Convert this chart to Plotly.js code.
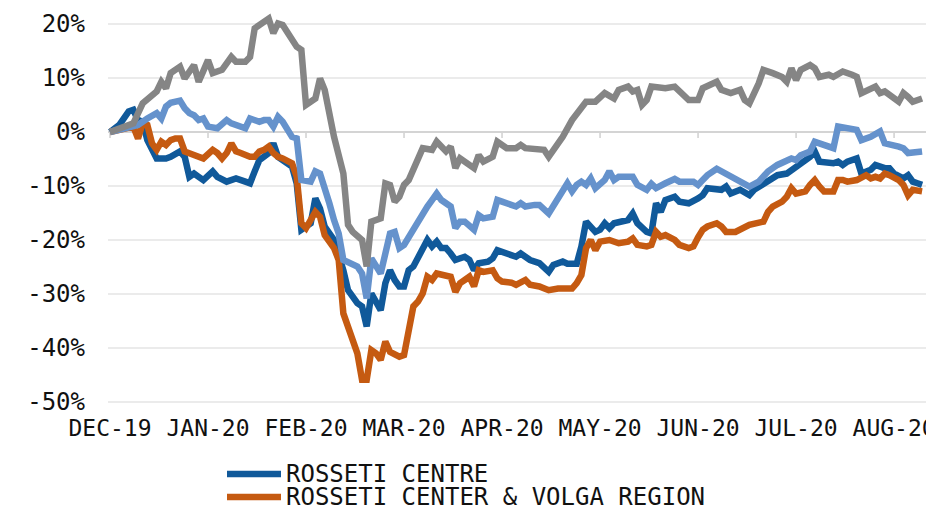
<!DOCTYPE html>
<html>
<head>
<meta charset="utf-8">
<script src="https://cdn.plot.ly/plotly-3.0.1.min.js"></script>
<style>
html,body{margin:0;padding:0;background:#fff;overflow:hidden}
#chart{width:926px;height:508px}
</style>
</head>
<body>
<div id="chart"></div>
<script>
// ---- DATA (x = trading-day index since start, y = % change) ----
const tickDays = [0, 21, 42, 63, 84, 105, 126, 147, 168];
const tickLabels = ['DEC-19', 'JAN-20', 'FEB-20', 'MAR-20', 'APR-20', 'MAY-20', 'JUN-20', 'JUL-20', 'AUG-20'];
const yTicks = [-50, -40, -30, -20, -10, 0, 10, 20];

const centreName = 'ROSSETI CENTRE';
const centreDays = [0,2,4,5,6,7,8,9,10,12,13,15,16,17,18,19,20,22,23,25,26,27,29,30,31,32,34,35,36,39,40,41,43,44,45,46,48,49,50,51,53,54,55,56,57,58,59,60,61,62,63,64,65,66,67,68,69,70,71,72,73,74,76,77,78,79,81,82,83,84,86,87,88,90,92,94,95,97,98,100,101,102,104,105,106,107,108,111,112,113,115,116,117,118,119,121,122,124,126,127,128,130,131,132,133,135,137,138,140,141,143,145,147,148,150,151,152,155,156,157,158,160,161,163,164,166,167,168,170,171,172,173,174];
const centreValues = [0,1.3,3.8,4.1,2.2,1.9,-1.5,-3.3,-4.9,-4.9,-4.6,-3.6,-4.6,-8.3,-7.7,-8.3,-8.9,-7.3,-8.3,-9.2,-8.9,-8.6,-9.2,-9.5,-7.3,-5.2,-3.9,-2.1,-4.6,-6.4,-9.5,-18.1,-16.9,-12.3,-14.2,-17.5,-20.0,-22.5,-25.6,-29.3,-31.7,-32.3,-36.0,-29.9,-31.7,-33.0,-28.0,-25.6,-27.4,-28.6,-28.6,-25.6,-24.9,-23.1,-21.5,-20.0,-21.2,-20.3,-21.5,-21.5,-22.5,-23.7,-23.1,-23.7,-25.6,-24.3,-24.0,-23.4,-21.9,-22.2,-22.8,-23.1,-22.5,-23.7,-24.3,-25.9,-24.6,-24.0,-24.4,-24.4,-21.2,-16.6,-18.5,-18.1,-16.9,-17.8,-16.9,-16.3,-15.1,-16.9,-18.5,-18.8,-13.2,-14.8,-12.6,-12.0,-12.9,-13.2,-12.3,-11.7,-10.4,-10.4,-10.7,-10.1,-11.4,-10.7,-11.7,-10.7,-9.5,-8.9,-8.0,-7.7,-6.4,-6.1,-4.6,-3.6,-5.5,-5.8,-5.5,-6.1,-5.5,-4.9,-7.7,-7.0,-6.1,-6.7,-6.7,-7.7,-8.6,-8.0,-9.2,-9.5,-9.8];

const volgaName = 'ROSSETI CENTER & VOLGA REGION';
const volgaDays = [0,3,5,6,7,8,9,10,11,12,13,14,15,16,17,19,20,22,23,24,25,26,27,28,30,31,32,33,34,35,36,37,39,40,41,42,43,44,45,46,48,49,50,51,52,53,54,55,56,57,58,59,60,62,63,64,65,66,67,68,69,70,71,72,73,74,75,76,77,78,79,80,82,83,84,86,87,89,90,92,94,96,99,100,101,102,103,104,105,107,109,111,112,113,115,116,117,118,119,121,122,124,125,126,127,128,130,131,132,134,135,137,140,141,142,144,145,146,147,149,150,151,152,153,155,156,157,158,160,161,162,163,164,165,166,167,169,170,171,172,173,174];
const volgaValues = [0,0.7,1.0,-1.2,1.6,1.3,-2.1,-3.3,-1.8,-2.4,-1.5,-1.2,-1.2,-3.6,-3.9,-4.3,-4.9,-3.3,-3.9,-4.9,-3.9,-2.1,-3.6,-3.9,-4.6,-4.6,-3.6,-3.3,-2.7,-3.9,-4.6,-4.9,-5.8,-8.3,-16.9,-17.8,-16.3,-14.8,-15.7,-19.1,-21.5,-23.7,-33.6,-36.0,-38.5,-41.0,-45.9,-45.9,-40.4,-41.0,-42.2,-38.8,-40.7,-41.6,-41.3,-36.0,-32.3,-31.4,-29.9,-26.8,-27.4,-26.2,-26.5,-26.5,-26.8,-29.6,-28.0,-27.4,-26.8,-28.6,-25.6,-25.9,-25.6,-27.1,-27.7,-27.9,-28.3,-27.4,-28.3,-28.6,-29.3,-29.0,-29.0,-28.0,-26.5,-21.5,-20.0,-21.9,-20.3,-20.0,-20.6,-20.3,-19.7,-20.9,-21.2,-20.9,-18.5,-19.4,-19.1,-20.0,-20.9,-21.5,-21.2,-19.5,-18.1,-17.5,-16.9,-17.5,-18.5,-18.5,-18.1,-17.2,-16.6,-14.8,-13.8,-12.9,-12.0,-10.4,-11.4,-11.0,-9.8,-8.9,-10.1,-11.0,-11.0,-8.9,-8.9,-9.2,-8.9,-8.6,-8.0,-8.6,-8.3,-8.6,-7.7,-8.0,-8.9,-9.8,-11.7,-10.7,-11.0,-11.0];

const lightName = 'COMPARISON SERIES A';
const lightDays = [0,4,6,8,10,11,12,13,15,16,17,18,19,20,21,23,25,26,28,29,30,32,33,34,35,36,37,38,39,40,41,43,44,45,46,47,48,49,50,51,53,54,55,56,57,58,59,60,61,62,63,64,65,66,67,68,69,70,71,72,73,74,75,76,77,78,79,80,82,83,84,86,87,88,89,91,92,94,95,96,98,99,100,101,102,103,104,106,107,108,109,112,113,115,116,117,118,119,121,122,125,126,127,128,130,132,133,135,137,139,140,141,143,145,146,147,148,150,151,152,155,156,158,160,161,163,165,166,169,170,171,174];
const lightValues = [0,1.0,1.3,2.5,3.5,2.5,4.7,5.4,5.8,4.4,3.5,3.1,2.2,2.5,1.0,0.7,2.2,1.6,1.0,0.7,2.5,1.9,2.2,2.2,1.0,2.8,1.9,0.4,-0.9,-1.2,-8.9,-9.2,-7.3,-7.7,-10.1,-13.2,-16.3,-18.8,-23.7,-24.0,-24.9,-26.2,-30.8,-23.4,-24.9,-26.2,-22.5,-18.8,-18.5,-21.5,-20.9,-19.4,-17.8,-16.6,-15.1,-13.8,-12.6,-11.4,-12.6,-13.2,-13.8,-17.8,-16.6,-16.6,-17.5,-18.1,-15.4,-16.0,-15.7,-12.6,-12.9,-13.3,-13.8,-13.2,-13.8,-13.5,-13.5,-15.1,-13.8,-12.0,-9.5,-11.0,-9.8,-9.2,-9.8,-8.6,-10.4,-8.9,-7.3,-8.9,-8.3,-8.3,-9.8,-10.7,-9.6,-10.4,-9.8,-9.5,-8.7,-9.2,-9.2,-9.8,-8.9,-8.0,-6.8,-7.7,-8.0,-8.9,-10.1,-9.2,-8.3,-7.3,-6.1,-5.2,-4.9,-5.2,-4.3,-3.6,-1.8,-2.1,-3.0,1.0,0.7,0.4,-1.5,-0.9,0.1,-2.1,-2.7,-3.0,-3.9,-3.6];

const greyName = 'COMPARISON SERIES B';
const greyDays = [0,5,7,10,11,12,13,15,16,18,19,21,22,24,26,27,29,30,31,34,35,36,37,40,41,42,44,45,46,47,48,50,51,52,54,55,56,58,59,60,61,62,63,64,65,67,69,70,71,72,73,74,75,76,78,79,80,82,83,85,87,88,89,93,94,97,98,99,102,104,106,108,109,111,112,113,114,115,116,119,121,124,126,127,130,131,133,135,136,137,139,140,142,144,145,146,147,148,150,151,152,154,155,157,159,160,161,163,164,165,166,169,170,171,172,174];
const greyValues = [0,1.6,5.3,7.5,9.3,8.1,10.9,12.1,9.9,12.4,9.3,13.3,10.9,11.5,13.9,13.0,13.0,13.9,19.2,21.0,18.3,20.1,19.8,15.8,15.2,5.0,6.2,9.9,7.8,3.5,-0.9,-7.7,-17.2,-18.5,-20.0,-24.9,-16.6,-16.0,-9.5,-9.8,-12.9,-12.0,-9.8,-8.9,-6.7,-3.0,-3.3,-1.8,-2.7,-3.6,-2.7,-6.7,-4.9,-5.5,-6.7,-4.3,-5.5,-4.6,-1.8,-3.0,-3.0,-2.4,-3.0,-3.3,-4.6,-0.9,0.7,2.2,5.6,5.6,7.2,6.2,7.8,8.4,7.5,7.8,5.0,5.9,8.4,8.1,8.4,5.9,5.9,8.1,9.3,7.8,7.2,7.8,5.9,5.3,9.0,11.5,10.9,10.2,9.3,11.8,9.6,11.5,12.4,11.8,10.2,10.6,10.2,11.2,10.6,10.2,7.2,7.8,8.4,7.2,7.5,5.6,7.2,6.5,5.6,6.2];

// ---- STYLE ----
const FONT = 'DejaVu Sans Mono, Liberation Mono, monospace';
const W = 926, H = 508;
const M = {l: 108, r: 0, t: 0, b: 98};
const xRange = [-0.43, 174.84];
const yRange = [-51.48, 24.44];

const series = [
  {name: centreName, x: centreDays, y: centreValues, color: '#10599A', legend: true},
  {name: volgaName,  x: volgaDays,  y: volgaValues,  color: '#C55A11', legend: true},
  {name: lightName,  x: lightDays,  y: lightValues,  color: '#6592CC', legend: false},
  {name: greyName,   x: greyDays,   y: greyValues,   color: '#858585', legend: false}
];

const traces = series.map(s => ({
  type: 'scatter', mode: 'lines', name: s.name,
  x: s.x, y: s.y,
  line: {color: s.color, width: 6.5, shape: 'linear'},
  showlegend: false,
  hovertemplate: '%{y:.1f}%<extra>' + s.name + '</extra>'
}));

// small tick marks hanging under the 0% line at each label position
const shapes = tickDays.map(d => ({
  type: 'line', xref: 'x', yref: 'y', ysizemode: 'pixel', yanchor: 0,
  x0: d, x1: d, y0: 0, y1: -6, layer: 'below',
  line: {color: '#d0d0d0', width: 1.5}
}));

// legend drawn at the bottom (only the two entries visible in the crop)
const plotW = W - M.l - M.r, plotH = H - M.t - M.b;
const px2paperX = p => (p - M.l) / plotW;
const py2paperY = p => (M.t + plotH - p) / plotH;
const legendRows = series.filter(s => s.legend);
const annotations = [];
legendRows.forEach((s, i) => {
  const cy = 474 + i * 23;
  shapes.push({type: 'line', xref: 'paper', yref: 'paper',
    x0: px2paperX(227), x1: px2paperX(281), y0: py2paperY(cy), y1: py2paperY(cy),
    line: {color: s.color, width: 6.5}});
  annotations.push({xref: 'paper', yref: 'paper', x: px2paperX(284), y: py2paperY(cy),
    xanchor: 'left', yanchor: 'middle', showarrow: false, text: s.name,
    font: {family: FONT, size: 24, color: '#111111'}});
});

const layout = {
  width: W, height: H,
  margin: Object.assign({autoexpand: false, pad: 0}, M),
  paper_bgcolor: '#ffffff', plot_bgcolor: '#ffffff',
  showlegend: false,
  font: {family: FONT, color: '#111111'},
  xaxis: {
    range: xRange, tickvals: tickDays, ticktext: tickLabels,
    showgrid: false, zeroline: false, showline: false, ticks: '',
    tickfont: {family: FONT, size: 23, color: '#111111'},
    ticklabelstandoff: 2, ticklabeloverflow: 'allow', fixedrange: true
  },
  yaxis: {
    range: yRange, tickvals: yTicks, ticktext: yTicks.map(v => v + '%'),
    showgrid: true, gridcolor: '#ebebeb', gridwidth: 1.2,
    zeroline: true, zerolinecolor: '#d4d4d4', zerolinewidth: 1.5,
    showline: false, ticks: '',
    tickfont: {family: FONT, size: 24, color: '#111111'},
    ticklabelstandoff: 22, fixedrange: true
  },
  shapes: shapes,
  annotations: annotations
};

Plotly.newPlot('chart', traces, layout, {displayModeBar: false, staticPlot: true});
</script>
</body>
</html>
